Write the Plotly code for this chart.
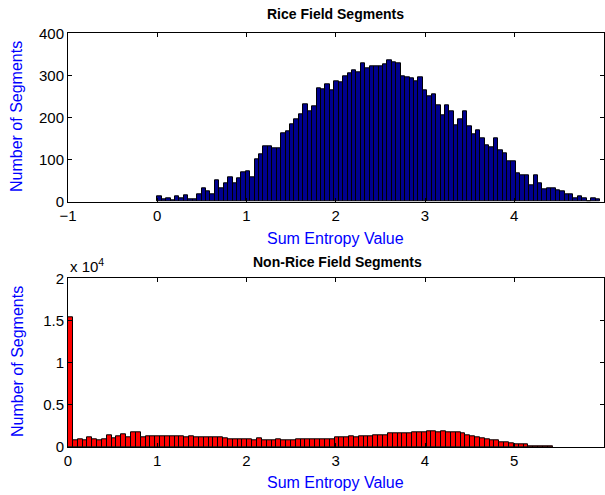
import numpy as np
import plotly.graph_objects as go

# ---- data ----
rice_counts = [14, 5, 9, 4, 12, 7, 16, 6, 6, 18,
               31, 25, 18, 52, 33, 44, 59, 44, 56, 69,
               72, 59, 101, 112, 131, 131, 128, 128, 162, 168,
               184, 196, 208, 232, 215, 226, 269, 267, 279, 264,
               286, 284, 298, 305, 311, 308, 328, 316, 322, 322,
               322, 327, 337, 331, 329, 299, 296, 293, 285, 296,
               264, 250, 256, 230, 206, 229, 215, 182, 196, 215,
               179, 159, 170, 151, 133, 129, 151, 121, 115, 95,
               95, 67, 62, 62, 39, 62, 44, 30, 32, 32,
               28, 24, 17, 18, 9, 12, 7, 2, 9, 6]
rice_bin_start = 0.0
rice_bin_width = 0.0496

nonrice_counts = [15400, 790, 950, 790, 1100, 950, 790, 950, 1420, 990,
                  1260, 1540, 1100, 1700, 1700, 1150, 1260, 1220, 1260, 1260,
                  1260, 1260, 1260, 1260, 1150, 1220, 1100, 1100, 1100, 1100,
                  1100, 1100, 1000, 950, 950, 950, 950, 950, 790, 1000,
                  830, 830, 830, 950, 830, 830, 830, 950, 950, 950,
                  950, 950, 950, 950, 950, 1100, 1100, 1100, 1260, 1100,
                  1260, 1260, 1260, 1420, 1420, 1420, 1580, 1580, 1580, 1580,
                  1650, 1700, 1700, 1700, 1810, 1810, 1700, 1810, 1700, 1700,
                  1700, 1600, 1400, 1250, 1100, 1050, 950, 830, 830, 560,
                  560, 450, 320, 280, 280, 120, 120, 120, 120, 120]
nonrice_bin_start = 0.0
nonrice_bin_width = 0.0543

top_xticks = [-1, 0, 1, 2, 3, 4, 5]
top_yticks = [0, 100, 200, 300, 400]
bot_xticks = [0, 1, 2, 3, 4, 5, 6]
bot_yticks = [0, 5000, 10000, 15000, 20000]
bot_yticklabels = ["0", "0.5", "1", "1.5", "2"]

rice_centers = rice_bin_start + (np.arange(len(rice_counts)) + 0.5) * rice_bin_width
nonrice_centers = nonrice_bin_start + (np.arange(len(nonrice_counts)) + 0.5) * nonrice_bin_width

FONT = "Liberation Sans, Arial, sans-serif"

fig = go.Figure()
fig.add_trace(go.Bar(
    x=rice_centers, y=rice_counts, width=rice_bin_width,
    marker=dict(color="#00008F", line=dict(color="black", width=1)),
    xaxis="x", yaxis="y", hoverinfo="skip"))
fig.add_trace(go.Bar(
    x=nonrice_centers, y=nonrice_counts, width=nonrice_bin_width,
    marker=dict(color="#FF0000", line=dict(color="black", width=1)),
    xaxis="x2", yaxis="y2", hoverinfo="skip"))

axis_common = dict(
    showline=True, linecolor="black", linewidth=1, mirror="ticks",
    ticks="inside", ticklen=4, tickcolor="black", tickwidth=1,
    showgrid=False, zeroline=False, automargin=False,
    tickfont=dict(family=FONT, size=15, color="black"),
)

xdom = [68 / 605, 603.5 / 605]
top_ydom = [1 - 201.7 / 495, 1 - 33.3 / 495]
bot_ydom = [1 - 447 / 495, 1 - 278.3 / 495]

fig.update_layout(
    width=605, height=495,
    margin=dict(l=0, r=0, t=0, b=0),
    paper_bgcolor="white", plot_bgcolor="white",
    showlegend=False, bargap=0,
    xaxis=dict(domain=xdom, range=[-1, 5], tickvals=top_xticks, anchor="y", **axis_common),
    yaxis=dict(domain=top_ydom, range=[0, 400], tickvals=top_yticks, anchor="x", **axis_common),
    xaxis2=dict(domain=xdom, range=[0, 6], tickvals=bot_xticks, anchor="y2", **axis_common),
    yaxis2=dict(domain=bot_ydom, range=[0, 20000], tickvals=bot_yticks,
                ticktext=bot_yticklabels, anchor="x2", **axis_common),
)

def px_x(px):
    return px / 605

def px_y(py):
    return 1 - py / 495

annots = [
    dict(text="<b>Rice Field Segments</b>", x=px_x(335), y=px_y(14), font=dict(size=14)),
    dict(text="<b>Non-Rice Field Segments</b>", x=px_x(337), y=px_y(262), font=dict(size=14)),
    dict(text="Sum Entropy Value", x=px_x(335), y=px_y(238), font=dict(size=16, color="#0000FF")),
    dict(text="Sum Entropy Value", x=px_x(335), y=px_y(482), font=dict(size=16, color="#0000FF")),
    dict(text="Number of Segments", x=px_x(17), y=px_y(117), textangle=-90,
         font=dict(size=16, color="#0000FF")),
    dict(text="Number of Segments", x=px_x(17), y=px_y(362), textangle=-90,
         font=dict(size=16, color="#0000FF")),
    dict(text="x 10<sup>4</sup>", x=px_x(68), y=px_y(265), xanchor="left",
         font=dict(size=15)),
]
for a in annots:
    a.setdefault("xanchor", "center")
    a.update(xref="paper", yref="paper", yanchor="middle", showarrow=False)
    f = a["font"]
    f.setdefault("color", "black")
    f["family"] = FONT
    fig.add_annotation(**a)

fig.write_html("out.html")
